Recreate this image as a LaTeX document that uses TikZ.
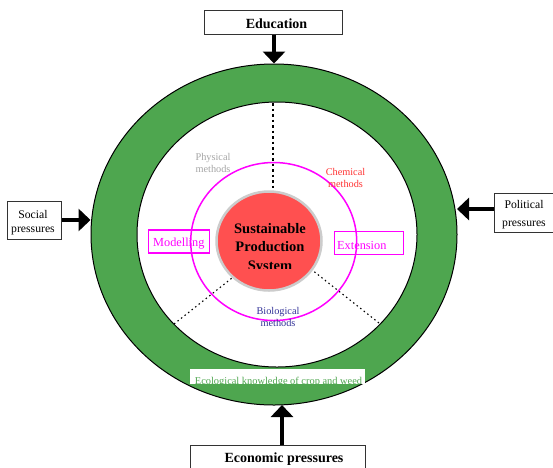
\documentclass[tikz,border=0pt]{standalone}
\usepackage{fontspec}
\setmainfont{Liberation Serif}
\usetikzlibrary{arrows.meta,shapes.geometric}
\definecolor{ringgreen}{HTML}{4EA64F}
\definecolor{corered}{HTML}{FF5050}
\definecolor{biolblue}{HTML}{333399}
\definecolor{pinkline}{HTML}{FF00FF}
\definecolor{chemred}{HTML}{FF3333}
\definecolor{physgrey}{HTML}{A6A6A6}
\tikzset{
  blackbox/.style={draw=black!80,line width=1pt,fill=white,inner sep=0pt},
  boldtext/.style={font=\bfseries\fontsize{14}{16}\selectfont,inner sep=0pt},
  plaintext/.style={font=\fontsize{11.7}{14.5}\selectfont,inner sep=0pt,align=center},
  pressure/.style={line width=4pt,-{Triangle[width=22pt,length=12pt]}},
  dotthick/.style={line width=2pt,dash pattern=on 2.5pt off 3pt},
  dotthin/.style={line width=1.1pt,dash pattern=on 1.5pt off 3pt},
  method/.style={font=\fontsize{10.3}{12.5}\selectfont,align=center,inner sep=0pt},
  boxlabel/.style={draw=pinkline,line width=1.1pt,inner sep=0pt,minimum height=23pt},
  boxtext/.style={text=pinkline,font=\fontsize{12.3}{14}\selectfont,inner sep=0pt},
  oval/.style={ellipse,inner sep=0pt},
}
\begin{document}
\begin{tikzpicture}[x=1pt,y=-1pt]
\useasboundingbox (0,0) rectangle (553,467);
\node[oval,draw=black,line width=1pt,fill=ringgreen,minimum width=366pt,minimum height=341pt] (outer) at (274,234.5) {};
\node[oval,draw=black,line width=1pt,fill=white,minimum width=280pt,minimum height=265pt] (inner) at (277,234.5) {};
\coordinate (topdot) at (273,103);
\coordinate (ldot) at (174,324);
\coordinate (rdot) at (379,323);
\node[oval,draw=black!20,line width=2.5pt,fill=corered,minimum width=105pt,minimum height=99pt] (core) at (269,241) {};
\draw[dotthick] (topdot) -- (core.north -| topdot);
\draw[dotthin] (ldot) -- (core.225);
\draw[dotthin] (rdot) -- (core.-34);
\node[boxlabel,minimum width=61pt,anchor=west] (model) at (148,241.5) {};
\node[boxtext,anchor=west] (modelt) at (153,243.5) {Modelling};
\node[boxlabel,minimum width=69pt,anchor=west] (ext) at (334,243) {};
\node[boxtext,anchor=west] (extt) at (337,245) {Extension};
\node[oval,draw=pinkline,line width=1.5pt,minimum width=166pt,minimum height=158pt] (mag) at (273.7,241.5) {};
\node[method,text=physgrey,anchor=center] (phys) at (213,163) {Physical\\methods};
\node[method,text=chemred] (chem) at (345.5,178) {Chemical\\methods};
\node[method,text=biolblue] (biol) at (278,317) {Biological\\methods};
\begin{scope}
\clip (200,200) rectangle (340,268);
\node[font=\bfseries\fontsize{14.5}{18.5}\selectfont,align=center,inner sep=0pt,anchor=north] (sps) at (270,223) {Sustainable\\Production\\System};
\end{scope}
\node[fill=white,inner sep=0pt,minimum width=175pt,minimum height=15pt] (ecobox) at (277.5,376.5) {};
\begin{scope}
\clip (190,369) rectangle (365,384);
\node[font=\fontsize{10.4}{12}\selectfont,text=ringgreen,inner sep=0pt] (eco) at (278.5,382) {Ecological knowledge of crop and weed};
\end{scope}
\node[blackbox,minimum width=138pt,minimum height=24pt] (edu) at (273,22) {};
\node[boldtext] (edut) at (276.5,24) {Education};
\node[blackbox,minimum width=54pt,minimum height=38pt] (soc) at (34,220) {};
\node[plaintext] (soct) at (33,222.5) {Social\\pressures};
\node[blackbox,minimum width=60pt,minimum height=39pt] (pol) at (524,212.5) {};
\node[plaintext,font=\fontsize{11.7}{18}\selectfont] (polt) at (524,215) {Political\\pressures};
\node[blackbox,minimum width=175pt,minimum height=40pt,anchor=north west] (econ) at (190,445) {};
\node[boldtext] (econt) at (284,459) {Economic pressures};
\coordinate (poltip) at (457,209);
\coordinate (econtip) at (282,405);
\draw[pressure] (edu.south -| outer.north) -- (outer.north);
\draw[pressure] (soc.east) -- (outer.west |- soc.east);
\draw[pressure] (pol.west |- poltip) -- (poltip);
\draw[pressure] (econ.north -| econtip) -- (econtip);
\end{tikzpicture}
\end{document}
